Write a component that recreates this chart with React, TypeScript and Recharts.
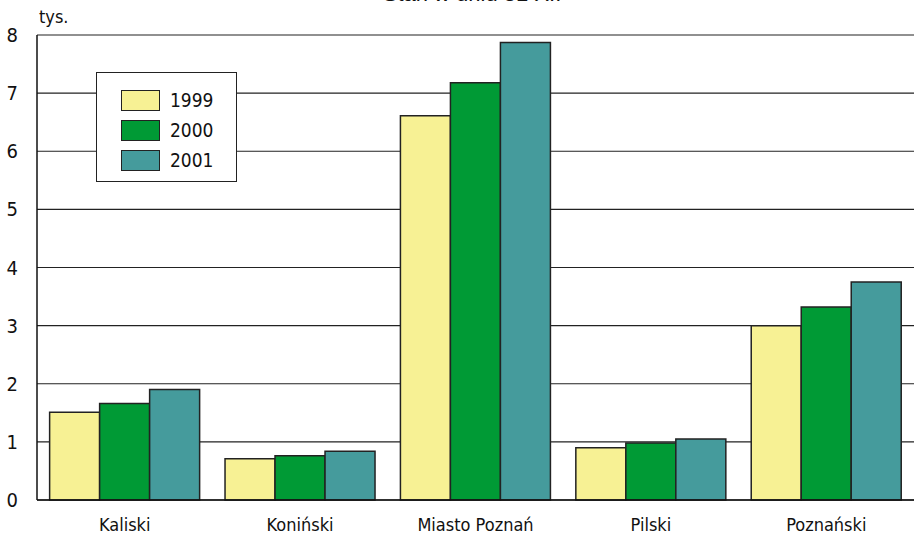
import { BarChart, Bar, XAxis, YAxis, CartesianGrid } from 'recharts'

const categories = ['Kaliski', 'Koniński', 'Miasto Poznań', 'Pilski', 'Poznański']
const years = ['1999', '2000', '2001']
const values1999 = [1.51, 0.71, 6.61, 0.9, 3.0]
const values2000 = [1.66, 0.76, 7.18, 0.98, 3.32]
const values2001 = [1.9, 0.84, 7.87, 1.05, 3.75]
const yTicks = [0, 1, 2, 3, 4, 5, 6, 7, 8]

const COLORS = ['#f7f194', '#009a35', '#459b9c']
const NARROW = '"DejaVu Sans Condensed", "Liberation Sans Narrow", "DejaVu Sans", sans-serif'
const WIDE = '"Liberation Sans", Arial, sans-serif'

const data = categories.map((name, i) => ({
  name,
  '1999': values1999[i],
  '2000': values2000[i],
  '2001': values2001[i],
}))

function LegendBox() {
  return (
    <div
      style={{
        position: 'absolute',
        left: 96,
        top: 72,
        width: 139,
        height: 96,
        border: '1px solid #222',
        background: '#fff',
        paddingTop: 12,
        zIndex: 2,
      }}
    >
      {years.map((y, i) => (
        <div key={y} style={{ display: 'flex', alignItems: 'center', height: 30, marginLeft: 24 }}>
          <div style={{ width: 37, height: 19, background: COLORS[i], border: '1px solid #222' }} />
          <span style={{ marginLeft: 10, fontFamily: NARROW, fontStretch: 'condensed', fontSize: 19, color: '#111' }}>{y}</span>
        </div>
      ))}
    </div>
  )
}

export default function App() {
  return (
    <div style={{ position: 'absolute', left: 0, top: 0, width: 914, height: 535, background: '#fff', overflow: 'hidden' }}>
      <div
        style={{
          position: 'absolute',
          left: 0,
          width: 944,
          top: -19,
          textAlign: 'center',
          fontFamily: WIDE,
          fontSize: 22,
          color: '#111',
        }}
      >
        Stan w dniu 31 XII
      </div>
      <div style={{ position: 'absolute', left: 39, top: 6, fontFamily: NARROW, fontStretch: 'condensed', fontSize: 18, color: '#111' }}>
        tys.
      </div>
      <LegendBox />
      <BarChart
        width={914}
        height={535}
        data={data}
        margin={{ top: 35, right: 0, bottom: 0, left: 0 }}
        barCategoryGap="7.2%"
        barGap={0}
      >
        <CartesianGrid vertical={false} stroke="#222" strokeWidth={1.2} />
        <XAxis
          dataKey="name"
          height={35}
          tickLine={false}
          tickSize={0}
          tickMargin={18}
          axisLine={{ stroke: '#111', strokeWidth: 1.5 }}
          tick={{ fontFamily: NARROW, fontStretch: 'condensed', fontSize: 18, fill: '#111' }}
        />
        <YAxis
          width={37}
          domain={[0, 8]}
          ticks={yTicks}
          interval={0}
          tickLine={false}
          tickSize={0}
          tickMargin={19}
          axisLine={{ stroke: '#111', strokeWidth: 1.5 }}
          tick={{ fontFamily: NARROW, fontStretch: 'condensed', fontSize: 20, fill: '#111' }}
        />
        {years.map((y, i) => (
          <Bar key={y} dataKey={y} fill={COLORS[i]} stroke="#222" strokeWidth={1.5} isAnimationActive={false} />
        ))}
      </BarChart>
    </div>
  )
}
